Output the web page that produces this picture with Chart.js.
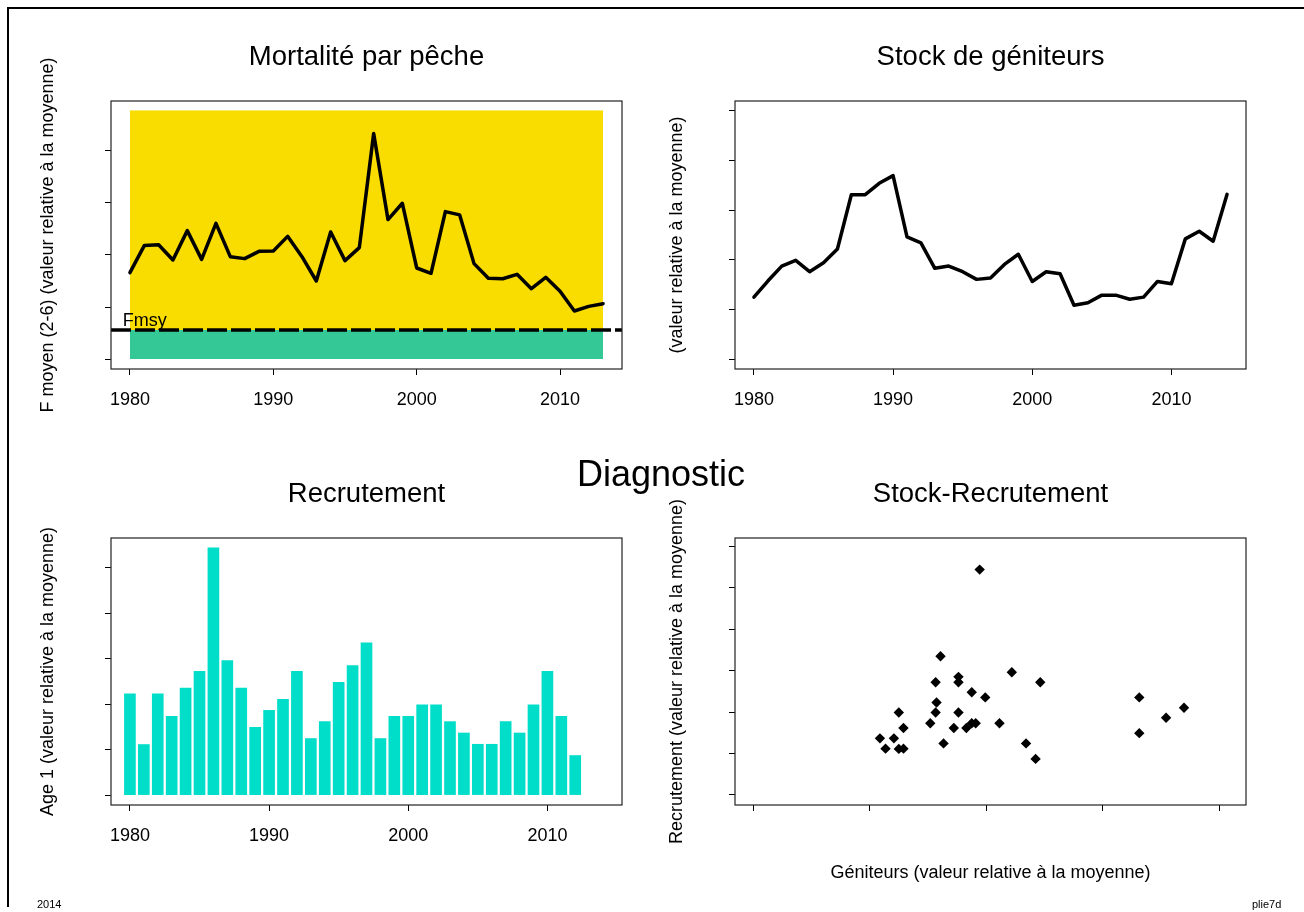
<!DOCTYPE html>
<html><head><meta charset="utf-8">
<script src="https://cdn.jsdelivr.net/npm/chart.js@4.4.1/dist/chart.umd.min.js"></script>
<style>
html,body{margin:0;padding:0;background:#fff;width:1304px;height:912px;overflow:hidden;font-family:"Liberation Sans",Arial,Helvetica,sans-serif;}
canvas{position:absolute;}
#frame{position:absolute;left:7px;top:7px;width:1400px;height:898px;border-left:2px solid #000;border-top:2px solid #000;}
.txt{position:absolute;white-space:nowrap;color:#000;line-height:1;}
</style></head><body>
<div id="frame"></div>
<canvas id="c1" width="652" height="440" style="left:0;top:0"></canvas>
<canvas id="c2" width="652" height="440" style="left:652px;top:0"></canvas>
<canvas id="c3" width="652" height="472" style="left:0;top:440px"></canvas>
<canvas id="c4" width="652" height="472" style="left:652px;top:440px"></canvas>
<div class="txt" id="diag" style="left:661px;top:474px;font-size:36px;transform:translate(-50%,-50%);">Diagnostic</div>
<div class="txt" style="left:37px;top:899px;font-size:11px;">2014</div>
<div class="txt" style="left:1252px;top:899px;font-size:11px;">plie7d</div>
<script>
// ---------- data ----------
const yearsF = [1980,1981,1982,1983,1984,1985,1986,1987,1988,1989,1990,1991,1992,1993,1994,1995,1996,1997,1998,1999,2000,2001,2002,2003,2004,2005,2006,2007,2008,2009,2010,2011,2012,2013];
const fbar = [0.830,1.090,1.099,0.952,1.234,0.958,1.304,0.984,0.965,1.035,1.038,1.179,0.984,0.750,1.221,0.946,1.071,2.167,1.340,1.497,0.875,0.824,1.417,1.385,0.917,0.776,0.772,0.814,0.676,0.785,0.651,0.462,0.506,0.532];
const fmsy = 0.279;
const fZoneTop = 2.384;
const fmsyLabelYear = 1979.5;

const yearsSSB = [1980,1981,1982,1983,1984,1985,1986,1987,1988,1989,1990,1991,1992,1993,1994,1995,1996,1997,1998,1999,2000,2001,2002,2003,2004,2005,2006,2007,2008,2009,2010,2011,2012,2013,2014];
const ssb = [0.624,0.786,0.937,0.995,0.880,0.971,1.109,1.656,1.656,1.771,1.848,1.231,1.170,0.914,0.937,0.880,0.803,0.816,0.954,1.056,0.782,0.880,0.860,0.543,0.567,0.644,0.644,0.603,0.624,0.782,0.759,1.211,1.288,1.187,1.660];

const yearsRec = [1980,1981,1982,1983,1984,1985,1986,1987,1988,1989,1990,1991,1992,1993,1994,1995,1996,1997,1998,1999,2000,2001,2002,2003,2004,2005,2006,2007,2008,2009,2010,2011,2012];
const rec = [1.115,0.556,1.115,0.866,1.177,1.360,2.719,1.480,1.177,0.746,0.932,1.053,1.360,0.622,0.808,1.239,1.425,1.674,0.622,0.866,0.866,0.994,0.994,0.808,0.683,0.559,0.559,0.808,0.683,0.994,1.360,0.866,0.435];

const yearTicks = [1980,1990,2000,2010];
const fTicks = [0,0.5,1,1.5,2];
const ssbTicks = [0,0.5,1,1.5,2,2.5];
const recTicks = [0,0.5,1,1.5,2,2.5];
const srXTicks = [0,0.5,1,1.5,2];
const srYTicks = [0,0.5,1,1.5,2,2.5,3];

// ---------- styling ----------
const FONT = '"Liberation Sans", Arial, Helvetica, sans-serif';
Chart.defaults.font.family = FONT;
Chart.defaults.color = '#000';
const YELLOW = '#F9DC00', GREEN = '#33C896', CYAN = '#00DDC8';

function xScale(min, max, tickVals, showLabels, height, title, titlePadBottom) {
  return {
    type: 'linear', min: min, max: max, offset: false,
    afterBuildTicks: s => { s.ticks = tickVals.map(v => ({value: v})); },
    afterFit: s => { s.height = height; },
    grid: {display: true, drawOnChartArea: false, drawTicks: true, tickLength: 6, color: '#000', tickColor: '#000', lineWidth: 1, offset: false},
    border: {display: false},
    ticks: {display: showLabels, padding: 14, font: {size: 18}, color: '#000', maxRotation: 0, minRotation: 0, autoSkip: false, callback: v => String(v)},
    title: title ? {display: true, text: title, font: {size: 18}, color: '#000', padding: {top: 0, bottom: titlePadBottom}} : {display: false}
  };
}
function yScale(min, max, tickVals, width, title, titlePadTop) {
  return {
    type: 'linear', min: min, max: max, beginAtZero: false,
    afterBuildTicks: s => { s.ticks = tickVals.map(v => ({value: v})); },
    afterFit: s => { s.width = width; },
    grid: {display: true, drawOnChartArea: false, drawTicks: true, tickLength: 6, color: '#000', tickColor: '#000', lineWidth: 1},
    border: {display: false},
    ticks: {display: false},
    title: {display: true, text: title, font: {size: 18}, color: '#000', padding: {top: titlePadTop, bottom: 0}}
  };
}
const boxPlugin = {
  id: 'box',
  afterDatasetsDraw(chart) {
    const a = chart.chartArea, ctx = chart.ctx;
    ctx.save();
    ctx.strokeStyle = '#222';
    ctx.lineWidth = 1.2;
    ctx.strokeRect(a.left, a.top, a.right - a.left, a.bottom - a.top);
    ctx.restore();
  }
};
function titleOpts(text, padTop, padBottom) {
  return {display: true, fullSize: false, text: text, font: {size: 27.5, weight: 'normal'}, color: '#000', padding: {top: padTop, bottom: padBottom}};
}
const common = {responsive: false, animation: false, devicePixelRatio: 1, events: []};

// ---------- chart 1 : F ----------
const xMin1 = 1978.68, xMax1 = 2014.32;
const fmsyLabel = {
  id: 'fmsyLabel',
  afterDatasetsDraw(chart) {
    const ctx = chart.ctx;
    const x = chart.scales.x.getPixelForValue(fmsyLabelYear);
    const y = chart.scales.y.getPixelForValue(fmsy);
    ctx.save();
    ctx.font = '18px ' + FONT;
    ctx.fillStyle = '#000';
    ctx.textAlign = 'left';
    ctx.textBaseline = 'alphabetic';
    ctx.fillText('Fmsy', x, y - 4);
    ctx.restore();
  }
};
new Chart(document.getElementById('c1'), {
  type: 'line',
  data: {datasets: [
    {data: yearsF.map((yr, i) => ({x: yr, y: fbar[i]})), borderColor: '#000', borderWidth: 3.5, pointRadius: 0, tension: 0, fill: false, borderJoinStyle: 'round', borderCapStyle: 'round'},
    {data: [{x: xMin1, y: fmsy}, {x: xMax1, y: fmsy}], borderColor: '#000', borderWidth: 3.5, borderDash: [20, 4], pointRadius: 0, fill: false},
    {data: [{x: yearsF[0], y: fZoneTop}, {x: yearsF[yearsF.length - 1], y: fZoneTop}], borderColor: YELLOW, borderWidth: 1, backgroundColor: YELLOW, pointRadius: 0, fill: {value: fmsy}},
    {data: [{x: yearsF[0], y: fmsy}, {x: yearsF[yearsF.length - 1], y: fmsy}], borderColor: GREEN, borderWidth: 1, backgroundColor: GREEN, pointRadius: 0, fill: {value: 0}}
  ]},
  options: Object.assign({}, common, {
    layout: {padding: {left: 31, right: 30, top: 0, bottom: 11}},
    plugins: {legend: {display: false}, tooltip: {enabled: false}, title: titleOpts('Mortalité par pêche', 41.0, 27.0)},
    scales: {
      x: xScale(xMin1, xMax1, yearTicks, true, 60),
      y: yScale(-0.0954, 2.4794, fTicks, 80, 'F moyen (2-6) (valeur relative à la moyenne)', 6.2)
    }
  }),
  plugins: [boxPlugin, fmsyLabel]
});

// ---------- chart 2 : SSB ----------
new Chart(document.getElementById('c2'), {
  type: 'line',
  data: {datasets: [
    {data: yearsSSB.map((yr, i) => ({x: yr, y: ssb[i]})), borderColor: '#000', borderWidth: 3.5, pointRadius: 0, tension: 0, fill: false, borderJoinStyle: 'round', borderCapStyle: 'round'}
  ]},
  options: Object.assign({}, common, {
    layout: {padding: {left: 13, right: 58, top: 0, bottom: 11}},
    plugins: {legend: {display: false}, tooltip: {enabled: false}, title: titleOpts('Stock de géniteurs', 41.0, 27.0)},
    scales: {
      x: xScale(1978.64, 2015.36, yearTicks, true, 60),
      y: yScale(-0.1, 2.6, ssbTicks, 70, '(valeur relative à la moyenne)', 1.2)
    }
  }),
  plugins: [boxPlugin]
});

// ---------- chart 3 : recruitment ----------
new Chart(document.getElementById('c3'), {
  type: 'bar',
  data: {datasets: [
    {data: yearsRec.map((yr, i) => ({x: yr, y: rec[i]})), backgroundColor: CYAN, borderWidth: 0, barThickness: 11}
  ]},
  options: Object.assign({}, common, {
    layout: {padding: {left: 31, right: 30, top: 0, bottom: 47}},
    plugins: {legend: {display: false}, tooltip: {enabled: false}, title: titleOpts('Recrutement', 37.5, 27.5)},
    scales: {
      x: xScale(1978.64, 2015.36, yearTicks, true, 60),
      y: yScale(-0.109, 2.828, recTicks, 80, 'Age 1 (valeur relative à la moyenne)', 6.2)
    }
  }),
  plugins: [boxPlugin]
});

// ---------- chart 4 : stock-recruitment ----------
const srPoints = [];
for (let k = 1; k < rec.length; k++) srPoints.push({x: ssb[k - 1], y: rec[k]});
new Chart(document.getElementById('c4'), {
  type: 'scatter',
  data: {datasets: [
    {data: srPoints, pointStyle: 'rectRot', pointRadius: 5.2, backgroundColor: '#000', borderColor: '#000', borderWidth: 0}
  ]},
  options: Object.assign({}, common, {
    layout: {padding: {left: 13, right: 58, top: 0, bottom: 17}},
    plugins: {legend: {display: false}, tooltip: {enabled: false}, title: titleOpts('Stock-Recrutement', 37.5, 27.5)},
    scales: {
      x: xScale(-0.079, 2.114, srXTicks, false, 90, 'Géniteurs (valeur relative à la moyenne)', 11.2),
      y: yScale(-0.121, 3.10, srYTicks, 70, 'Recrutement (valeur relative à la moyenne)', 1.2)
    }
  }),
  plugins: [boxPlugin]
});
</script>
</body></html>
